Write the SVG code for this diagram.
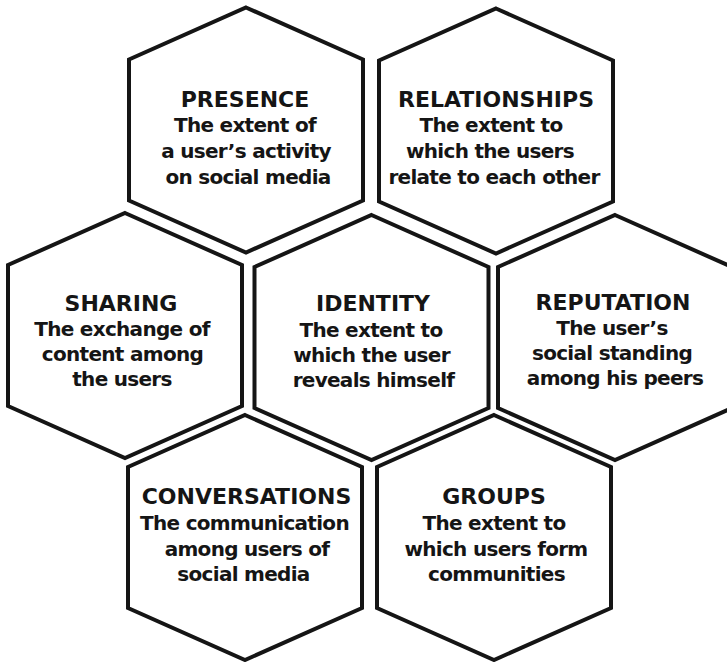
<svg xmlns="http://www.w3.org/2000/svg" xmlns:xlink="http://www.w3.org/1999/xlink" width="727" height="662" viewBox="0 0 727 662">
  <style>
    .hex { fill: #ffffff; stroke: #151515; stroke-width: 4; stroke-linejoin: miter; }
    .t { font-family: "DejaVu Sans", Verdana, sans-serif; font-weight: bold; fill: #151515; text-anchor: middle; }
    .h { font-size: 22px; }
    .b { font-size: 20px; letter-spacing: -0.7px; }
  </style>
  <defs>
    <!-- flattened pointy-top hexagon centred on the origin -->
    <path id="hex" d="M0,-122.5 L117,-70.5 L117,70.5 L0,122.5 L-117,70.5 L-117,-70.5 Z"/>
  </defs>
  <rect width="727" height="662" fill="#ffffff"/>

  <g id="presence">
    <use xlink:href="#hex" href="#hex" class="hex" x="246" y="130"/>
    <text class="t h" x="245" y="106.5">PRESENCE</text>
    <text class="t b" x="245" y="132">The extent of</text>
    <text class="t b" x="246" y="158">a user’s activity</text>
    <text class="t b" x="248" y="184">on social media</text>
  </g>

  <g id="relationships">
    <use xlink:href="#hex" href="#hex" class="hex" x="496" y="131"/>
    <text class="t h" x="496" y="106.5">RELATIONSHIPS</text>
    <text class="t b" x="491" y="132">The extent to</text>
    <text class="t b" x="490" y="158">which the users</text>
    <text class="t b" x="494" y="184">relate to each other</text>
  </g>

  <g id="sharing">
    <use xlink:href="#hex" href="#hex" class="hex" x="125" y="335.5"/>
    <text class="t h" x="121" y="310.5">SHARING</text>
    <text class="t b" x="122" y="336">The exchange of</text>
    <text class="t b" x="122.5" y="361">content among</text>
    <text class="t b" x="122" y="386">the users</text>
  </g>

  <g id="identity">
    <use xlink:href="#hex" href="#hex" class="hex" x="371.5" y="337.5"/>
    <text class="t h" x="373" y="310.5">IDENTITY</text>
    <text class="t b" x="371" y="336.5">The extent to</text>
    <text class="t b" x="371.5" y="362">which the user</text>
    <text class="t b" x="373.5" y="386.5">reveals himself</text>
  </g>

  <g id="reputation">
    <use xlink:href="#hex" href="#hex" class="hex" x="615" y="337.5"/>
    <text class="t h" x="613" y="310">REPUTATION</text>
    <text class="t b" x="612" y="335">The user’s</text>
    <text class="t b" x="612" y="360">social standing</text>
    <text class="t b" x="615" y="385">among his peers</text>
  </g>

  <g id="conversations">
    <use xlink:href="#hex" href="#hex" class="hex" x="245" y="537.5"/>
    <text class="t h" x="246.5" y="504">CONVERSATIONS</text>
    <text class="t b" x="244.5" y="529.5">The communication</text>
    <text class="t b" x="247" y="555.5">among users of</text>
    <text class="t b" x="243.5" y="580.5">social media</text>
  </g>

  <g id="groups">
    <use xlink:href="#hex" href="#hex" class="hex" x="494" y="537.5"/>
    <text class="t h" x="494" y="503.5">GROUPS</text>
    <text class="t b" x="494" y="529.5">The extent to</text>
    <text class="t b" x="496" y="555.5">which users form</text>
    <text class="t b" x="496.5" y="580.5">communities</text>
  </g>
</svg>
